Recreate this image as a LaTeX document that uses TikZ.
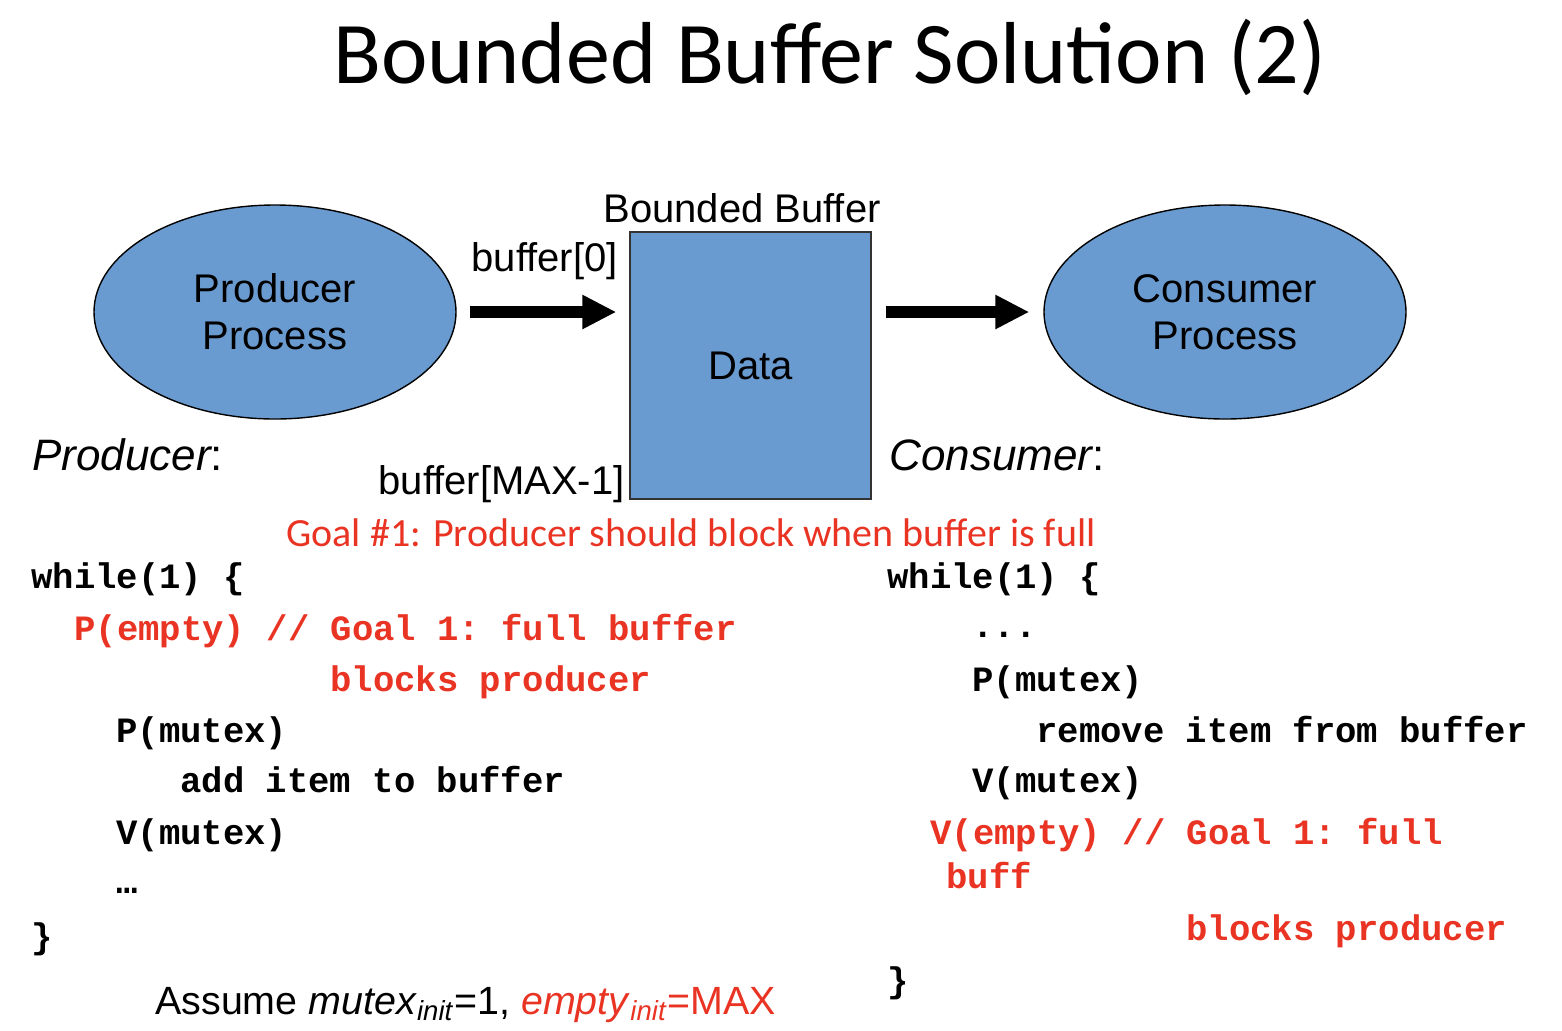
\documentclass[tikz,border=0pt]{standalone}
\usepackage{fontspec}
\setmainfont{Liberation Sans}
\setmonofont{Liberation Mono}
\newfontfamily\calfont{Carlito}
\usepackage{xcolor}
\usetikzlibrary{arrows.meta,shapes.geometric}

\definecolor{procblue}{RGB}{106,155,208}
\definecolor{goalred}{RGB}{233,51,35}

\tikzset{
  proc/.style={ellipse,draw=black,line width=0.7pt,fill=procblue,
    minimum width=181pt,minimum height=107pt,inner sep=0pt,align=center,
    font=\fontsize{20}{23.5}\selectfont},
  bufbox/.style={rectangle,draw=black!80,line width=0.7pt,fill=procblue,
    minimum width=120.5pt,minimum height=133.5pt,inner sep=0pt,
    font=\fontsize{20}{24}\selectfont},
  lbl/.style={inner sep=0pt,font=\fontsize{20}{24}\selectfont},
  role/.style={inner sep=0pt,anchor=base west,font=\fontsize{22}{26}\selectfont\itshape},
  code/.style={inner sep=0pt,anchor=base west,font=\fontsize{17.8}{21}\ttfamily\bfseries},
  codered/.style={code,text=goalred},
  flow/.style={line width=6pt,-{Triangle[length=17pt,width=16pt]}}
}

\begin{document}
\begin{tikzpicture}[x=0.5pt,y=-0.5pt]
\useasboundingbox (0,0) rectangle (1562,1030);

% title
\node[inner sep=0pt,font=\fontsize{44}{50}\calfont] (title) at (830,57) {Bounded Buffer Solution (2)};

% processes and buffer
\node[proc] (prod) at (275,312) {Producer\\Process};
\node[proc] (cons) at (1225,312) {Consumer\\Process};
\node[bufbox] (buf) at (750.5,365.5) {\raisebox{-1pt}{Data}};
\node[lbl,anchor=base] (bbl) at (742,222) {Bounded Buffer};
\node[lbl,anchor=base east] (b0) at (618,271) {buffer[0]};
\node[lbl,anchor=base east] (bmax) at (625,494) {buffer[MAX-1]};

\draw[flow,shorten <=6.5pt,shorten >=6.5pt] (prod.east) -- (prod.east -| buf.west);
\draw[flow,shorten <=7pt,shorten >=7pt] (buf.east |- cons.west) -- (cons.west);

\node[role] (prodlbl) at (32,470) {Producer\upshape:};
\node[role] (conslbl) at (889,470) {Consumer\upshape:};

\node[inner sep=0pt,anchor=base west,text=goalred,font=\fontsize{20}{24}\calfont] (goal) at (286,546)
  {Goal \#1: Producer should block when buffer is full};

% producer code
\node[code] (p1) at (31,588) {while(1) \{};
\node[codered] (p2) at (74,640) {P(empty) // Goal 1: full buffer};
\node[codered] (p3) at (330,691) {blocks producer};
\node[code] (p4) at (116,742) {P(mutex)};
\node[code] (p5) at (180,792) {add item to buffer};
\node[code] (p6) at (116,844) {V(mutex)};
\node[code] (p7) at (116,893) {…};
\node[code] (p8) at (31,948) {\}};

% consumer code
\node[code] (c1) at (887,588) {while(1) \{};
\node[code] (c2) at (972,637) {...};
\node[code] (c3) at (972,691) {P(mutex)};
\node[code] (c4) at (1036,742) {remove item from buffer};
\node[code] (c5) at (972,792) {V(mutex)};
\node[codered] (c6) at (930,844) {V(empty) // Goal 1: full};
\node[codered] (c7) at (946,888) {buff};
\node[codered] (c8) at (1186,940) {blocks producer};
\node[code] (c9) at (887,992) {\}};

% initial values
\node[inner sep=0pt,anchor=base west,font=\fontsize{19.7}{24}\selectfont] (init) at (155,1014)
  {Assume \textit{mutex}\textsubscript{\textit{init}}=1, \textcolor{goalred}{\textit{empty}\textsubscript{\textit{init}}=MAX}};
\end{tikzpicture}
\end{document}
